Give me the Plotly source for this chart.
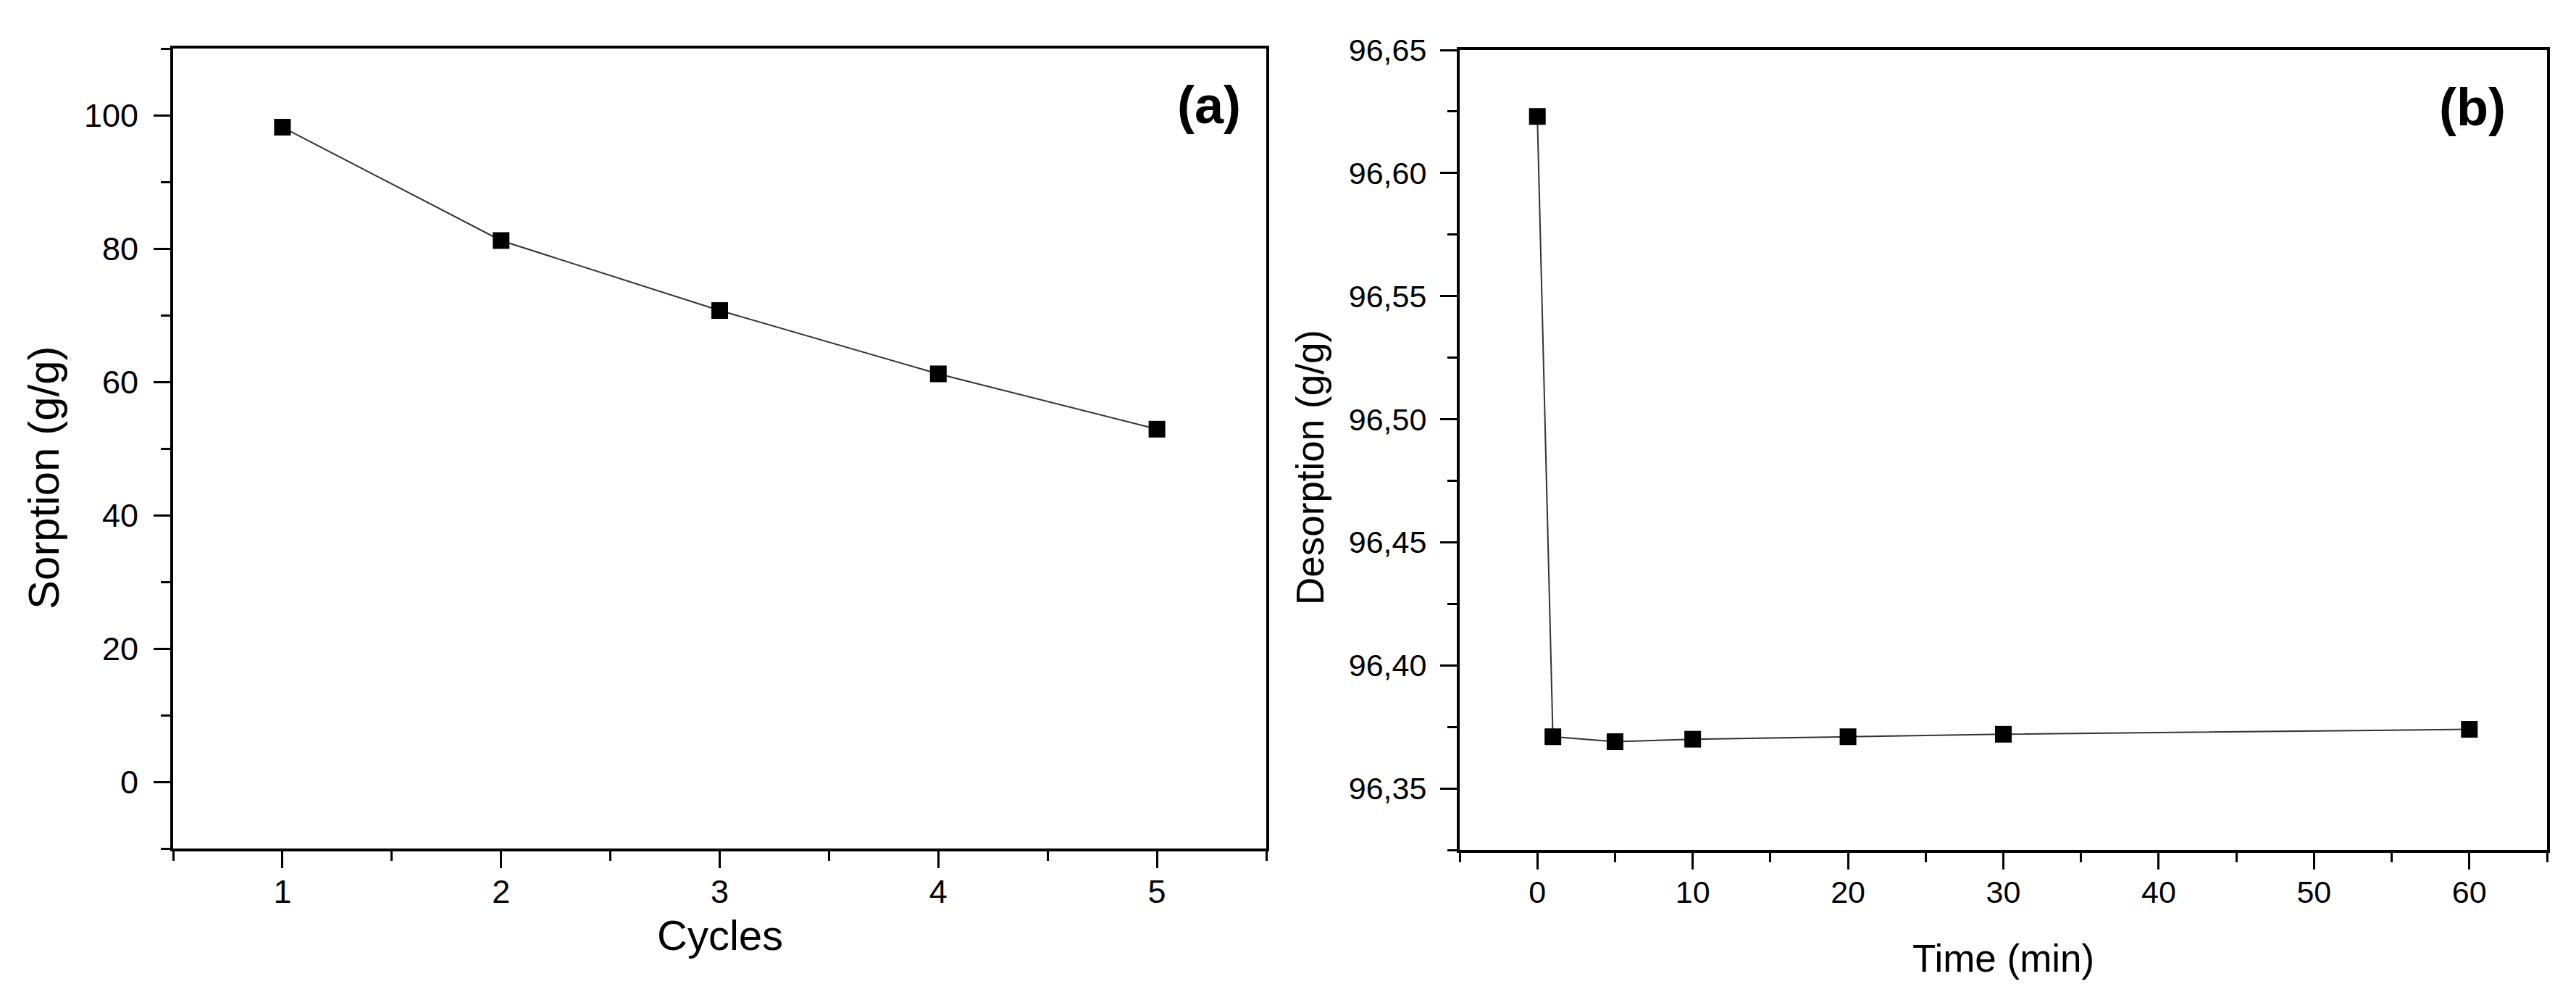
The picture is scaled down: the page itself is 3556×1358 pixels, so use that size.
import plotly.graph_objs as go
from plotly.subplots import make_subplots

# panel (a): sorption capacity over reuse cycles
cycles = [1, 2, 3, 4, 5]
sorption = [98.2, 81.2, 70.7, 61.2, 52.9]

# panel (b): desorption vs time
time_min = [0, 1, 5, 10, 20, 30, 60]
desorption = [96.623, 96.371, 96.369, 96.370, 96.371, 96.372, 96.374]

W, H = 3556, 1358
FONT = "Arial, Liberation Sans, sans-serif"


def px_x(v):
    return v / W


def px_y(v):
    return 1 - v / H


fig = make_subplots(rows=1, cols=2)

for col, (x, y) in enumerate([(cycles, sorption), (time_min, desorption)], start=1):
    fig.add_trace(go.Scatter(x=x, y=y,
                             mode="lines+markers",
                             line=dict(color="#333333", width=2),
                             marker=dict(symbol="square", size=23, color="black"),
                             showlegend=False,
                             ), row=1, col=col)

axis_style = dict(showline=True, linecolor="black", linewidth=4, mirror=True,
                  ticks="outside", ticklen=23, tickwidth=3, tickcolor="black",
                  showgrid=False, zeroline=False, automargin=False)

def minor(tick0, dtick):
    return dict(ticks="outside", ticklen=13, tickwidth=3, tickcolor="black",
                tick0=tick0, dtick=dtick, showgrid=False)

fig.update_layout(
    xaxis=dict(axis_style, domain=[px_x(231), px_x(1740)], range=[0.5, 5.5],
               tick0=1, dtick=1, minor=minor(0.5, 1), ticklabelstandoff=-6,
               tickfont=dict(family=FONT, size=45, color="black")),
    yaxis=dict(axis_style, domain=[px_y(1163), px_y(59)], range=[-10, 110],
               tick0=0, dtick=20, minor=minor(0, 10), ticklabelstandoff=12,
               tickfont=dict(family=FONT, size=45, color="black")),
    xaxis2=dict(axis_style, domain=[px_x(2007), px_x(3508)], range=[-5, 65],
                tick0=0, dtick=10, minor=minor(-5, 5), ticklabelstandoff=-6,
                tickfont=dict(family=FONT, size=43, color="black")),
    yaxis2=dict(axis_style, domain=[px_y(1165), px_y(61)], range=[96.325, 96.65],
                tick0=96.35, dtick=0.05, tickformat=".2f", minor=minor(96.325, 0.025),
                ticklabelstandoff=10,
                tickfont=dict(family=FONT, size=43, color="black")),
)

# axis titles and panel letters
def label(text, x, y, size, angle=0, xanchor="center"):
    fig.add_annotation(text=text, x=px_x(x), y=px_y(y), xref="paper", yref="paper",
                       xanchor=xanchor, yanchor="middle", showarrow=False, textangle=angle,
                       font=dict(family=FONT, size=size, color="black"))

label("Cycles", 986, 1282, 58)
label("Sorption (g/g)", 52, 651, 60, angle=-90)
label("Time (min)", 2757, 1314, 53)
label("Desorption (g/g)", 1800, 637, 53, angle=-90)
label("<b>(a)</b>", 1707, 137, 72, xanchor="right")
label("<b>(b)</b>", 3453, 140, 72, xanchor="right")

fig.update_layout(width=W, height=H, margin=dict(l=0, r=0, t=0, b=0),
                  paper_bgcolor="white", plot_bgcolor="white",
                  separators=",.", showlegend=False,
                  font=dict(family=FONT, color="black"))

fig.write_html("out.html")
